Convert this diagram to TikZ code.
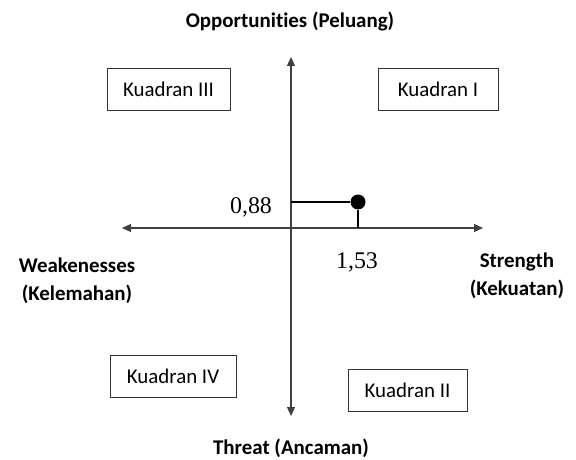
\documentclass[tikz,border=0pt]{standalone}
\usepackage{fontspec}
\setmainfont{Carlito}[Ligatures=NoCommon]
\newfontfamily\numfont{Liberation Serif}
\usetikzlibrary{arrows.meta}
\begin{document}
\begin{tikzpicture}[x=1bp, y=-1bp, font=\fontsize{21}{28}\selectfont,
		kuadran/.style={draw=black!80, line width=0.9bp, minimum height=42bp, inner sep=0pt},
		sumbu/.style={black!75, line width=1.1bp, {Triangle[length=9bp,width=8bp]}-{Triangle[length=9bp,width=8bp]}},
		judul/.style={font=\fontsize{21}{28}\selectfont\bfseries, align=center},
		angka/.style={font=\numfont\fontsize{24}{28}\selectfont},
		penanda/.style={line width=2bp}]
	\useasboundingbox (0,0) rectangle (576,460);
	% sumbu
	\coordinate (atas) at (291,57);
	\coordinate (bawah) at (291,416);
	\coordinate (kiri) at (122,228);
	\coordinate (kanan) at (483,228);
	\draw[sumbu] (bawah) -- (atas);
	\draw[sumbu] (kiri) -- (kanan);
	% label sumbu
	\node[judul] (peluang) at (290,22) {Opportunities (Peluang)};
	\node[judul] (ancaman) at (291,448) {Threat (Ancaman)};
	\node[judul] (kelemahan) at (77,281) {Weakenesses\\(Kelemahan)};
	\node[judul] (kekuatan) at (517,276) {Strength\\(Kekuatan)};
	% kuadran
	\node[kuadran, minimum width=123bp] (k3) at (168.5,89) {Kuadran III};
	\node[kuadran, minimum width=120bp] (k1) at (438,89) {Kuadran I};
	\node[kuadran, minimum width=126bp] (k4) at (173,376) {Kuadran IV};
	\node[kuadran, minimum width=119bp] (k2) at (407.5,390.5) {Kuadran II};
	% titik posisi
	\node[circle, fill, inner sep=0pt, minimum size=15bp] (titik) at (358,202) {};
	\coordinate (ty) at (291,202);
	\coordinate (tx) at (358,228);
	\draw[penanda] (ty) -- (titik);
	\draw[penanda] (titik) -- (tx);
	\node[angka] (nilaiy) at (251,207) {0,88};
	\node[angka] (nilaix) at (357,262) {1,53};
\end{tikzpicture}
\end{document}
